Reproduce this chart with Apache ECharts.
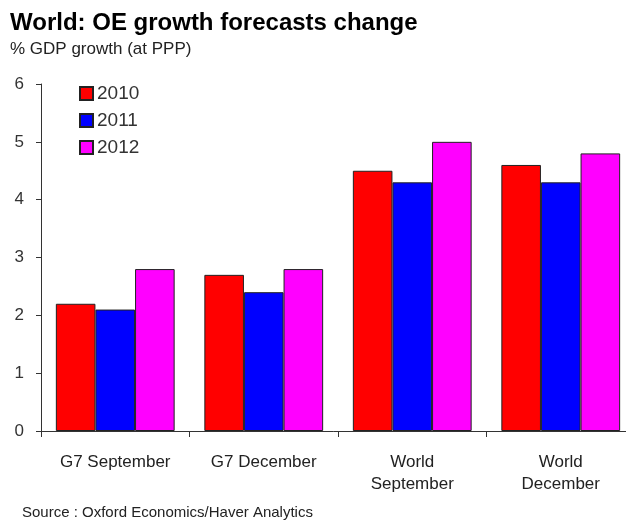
<!DOCTYPE html>
<html>
<head>
<meta charset="utf-8">
<script src="https://cdn.jsdelivr.net/npm/echarts@6/dist/echarts.min.js"></script>
<style>
  html, body { margin: 0; padding: 0; background: #fff; }
  #chart { width: 626px; height: 520px; }
</style>
</head>
<body>
<div id="chart"></div>
<script>
// Forecast groups and GDP growth (% at PPP) per forecast year
const categories = ['G7 September', 'G7 December', 'World\nSeptember', 'World\nDecember'];
const years = ['2010', '2011', '2012'];
const growth2010 = [2.2, 2.7, 4.5, 4.6];
const growth2011 = [2.1, 2.4, 4.3, 4.3];
const growth2012 = [2.8, 2.8, 5.0, 4.8];
const yTicks = [0, 1, 2, 3, 4, 5, 6];

const colors = ['#ff0000', '#0000ff', '#ff00ff'];
const seriesValues = [growth2010, growth2011, growth2012];
const fontFamily = '"Liberation Sans", Arial, sans-serif';

const chart = echarts.init(document.getElementById('chart'), null, { renderer: 'canvas' });

chart.setOption({
  animation: false,
  backgroundColor: '#ffffff',
  title: [
    {
      text: 'World: OE growth forecasts change',
      left: 10, top: 11, padding: 0,
      textStyle: { fontFamily, fontSize: 24, fontWeight: 'bold', color: '#000' }
    },
    {
      text: '% GDP growth (at PPP)',
      left: 10, top: 41, padding: 0,
      textStyle: { fontFamily, fontSize: 17, fontWeight: 'normal', color: '#222' }
    },
    {
      text: 'Source : Oxford Economics/Haver Analytics',
      left: 22, top: 505, padding: 0,
      textStyle: { fontFamily, fontSize: 15, fontWeight: 'normal', color: '#222' }
    }
  ],
  legend: {
    orient: 'vertical',
    left: 79, top: 84, padding: 0,
    itemWidth: 13, itemHeight: 13, itemGap: 8,
    icon: 'rect',
    data: years,
    textStyle: { fontFamily, fontSize: 19, lineHeight: 19, color: '#333', padding: [0, 0, 0, -1] }
  },
  grid: { left: 41, top: 84, width: 594, bottom: 89, containLabel: false, outerBoundsMode: 'none' },
  xAxis: {
    type: 'category',
    data: categories,
    axisLine: { lineStyle: { color: '#333', width: 1 } },
    axisTick: { show: true, length: 6, alignWithLabel: false, lineStyle: { color: '#333' } },
    axisLabel: {
      fontFamily, fontSize: 17, color: '#222', margin: 20, lineHeight: 22, interval: 0
    },
    splitLine: { show: false }
  },
  yAxis: {
    type: 'value',
    min: yTicks[0], max: yTicks[yTicks.length - 1], interval: 1,
    axisLine: { show: true, lineStyle: { color: '#333', width: 1 } },
    axisTick: { show: true, length: 5, lineStyle: { color: '#333' } },
    axisLabel: { fontFamily, fontSize: 17, color: '#333', margin: 17 },
    splitLine: { show: false }
  },
  series: years.map((y, i) => ({
    name: y,
    type: 'bar',
    data: seriesValues[i],
    barGap: '0%',
    barCategoryGap: '20%',
    itemStyle: { color: colors[i], borderColor: '#222', borderWidth: 1 }
  }))
});
</script>
</body>
</html>
